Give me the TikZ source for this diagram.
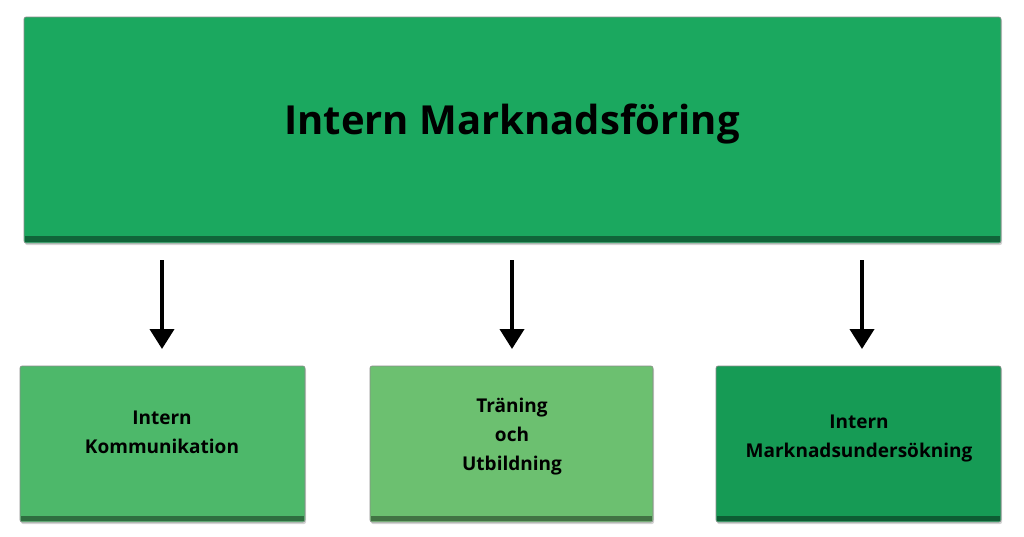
\documentclass[tikz,border=0pt]{standalone}
\usepackage{fontspec}
\setmainfont{Open Sans}
\usetikzlibrary{arrows.meta,shadows}
\definecolor{gtop}{HTML}{1BA85F}
\definecolor{gleft}{HTML}{4DB86A}
\definecolor{gmid}{HTML}{6CC070}
\definecolor{gright}{HTML}{169B55}
\tikzset{
  boxs/.style={rounded corners=2pt, draw=black!45, line width=0.6pt, drop shadow={shadow xshift=1pt,shadow yshift=-2pt,opacity=0.35}},
  lbl/.style={font=\bfseries, align=center, text=black},
  arr/.style={-{Triangle[width=24pt,length=20pt]}, line width=4pt, black}
}
\begin{document}
\begin{tikzpicture}[x=1pt,y=-1pt]
\useasboundingbox (0,0) rectangle (1024,536);
\fill[boxs, fill=gtop] (24,17) rectangle (1001,243);
\fill[gtop!60!black] (25,236) rectangle (1000,242);
\node[lbl, font=\fontsize{40}{46}\selectfont\bfseries] (top) at (512,124) {Intern Marknadsföring};
\coordinate (tb) at (512,243);

\fill[boxs, fill=gleft] (20,366) rectangle (305,522);
\fill[gleft!60!black] (21,516) rectangle (304,521);
\node[lbl, font=\fontsize{19}{29}\selectfont\bfseries] (b1) at (162,432) {Intern\\Kommunikation};

\fill[boxs, fill=gmid] (370,366) rectangle (653,522);
\fill[gmid!60!black] (371,516) rectangle (652,521);
\node[lbl, font=\fontsize{19}{29}\selectfont\bfseries] (b2) at (512,437) {Träning\\och\\Utbildning};

\fill[boxs, fill=gright] (716,366) rectangle (1001,522);
\fill[gright!60!black] (717,516) rectangle (1000,521);
\node[lbl, font=\fontsize{19}{29}\selectfont\bfseries] (b3) at (859,438) {Intern\\Marknadsundersökning};

\coordinate (s1) at (162,260); \coordinate (e1) at (162,349);
\coordinate (s2) at (512,260); \coordinate (e2) at (512,349);
\coordinate (s3) at (862,260); \coordinate (e3) at (862,349);
\draw[arr] (s1) -- (e1);
\draw[arr] (s2) -- (e2);
\draw[arr] (s3) -- (e3);
\end{tikzpicture}
\end{document}
